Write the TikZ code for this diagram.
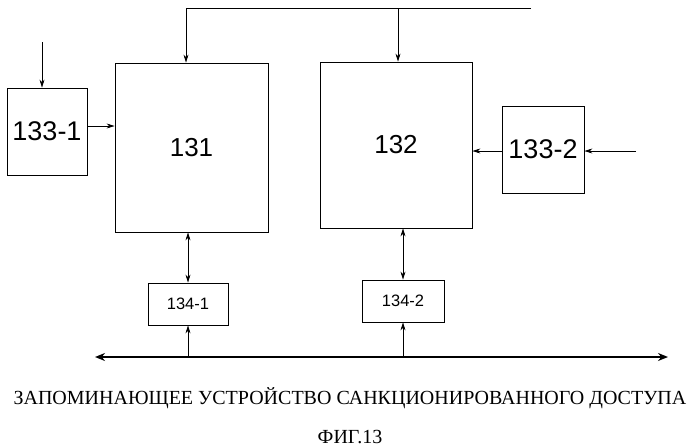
\documentclass[tikz,border=0pt]{standalone}
\usepackage{fontspec}
\setmainfont{Liberation Serif}
\newfontfamily\labfont{Liberation Sans}
\usetikzlibrary{arrows.meta}
\tikzset{
  blk/.style={draw, line width=0.8pt, inner sep=0pt},
  lnk/.style={line width=0.8pt, -{Stealth[length=8pt,width=5pt]}},
  dlnk/.style={line width=0.8pt, {Stealth[length=8pt,width=5pt]}-{Stealth[length=8pt,width=5pt]}},
}
\begin{document}
\begin{tikzpicture}[x=1pt,y=-1pt]
  \useasboundingbox (0,0) rectangle (699,447);
  % blocks
  \node[blk, minimum width=80pt, minimum height=87pt, font=\labfont\fontsize{27}{29}\selectfont] (b1331) at (47,131.5) {133-1};
  \node[blk, minimum width=153pt, minimum height=169pt, font=\labfont\fontsize{26}{28}\selectfont] (b131) at (191.5,147.5) {131};
  \node[blk, minimum width=152pt, minimum height=166pt, font=\labfont\fontsize{26}{28}\selectfont] (b132) at (396,145) {132};
  \node[blk, minimum width=82pt, minimum height=87pt, font=\labfont\fontsize{27}{29}\selectfont] (b1332) at (543,149.5) {133-2};
  \node[blk, minimum width=80pt, minimum height=42pt, font=\labfont\fontsize{16.5}{18}\selectfont] (b1341) at (188,304) {134-1};
  \node[blk, minimum width=82pt, minimum height=42pt, font=\labfont\fontsize{16.5}{18}\selectfont] (b1342) at (403,301) {134-2};
  % bus
  \coordinate (busl) at (95,357);
  \coordinate (busr) at (668,357);
  \draw[line width=2.2pt, {Stealth[length=10pt,width=8pt]}-{Stealth[length=10pt,width=8pt]}] (busl) -- (busr);
  % top line
  \coordinate (topr) at (531,8);
  \coordinate (topl) at (186,8);
  \draw[line width=0.8pt] (topr) -- (topl);
  \draw[lnk] (topl) -- (topl |- b131.north);
  \draw[lnk] (398,8) -- (398,0 |- b132.north);
  % inputs
  \coordinate (in1) at (42,42);
  \draw[lnk] (in1) -- (in1 |- b1331.north);
  \draw[lnk] (b1331.east |- 0,126) -- (b131.west |- 0,126);
  \coordinate (in2) at (636,151);
  \draw[lnk] (in2) -- (in2 -| b1332.east);
  \draw[lnk] (b1332.west |- in2) -- (b132.east |- in2);
  % memory links
  \draw[dlnk] (b131.south -| b1341) -- (b1341.north);
  \draw[dlnk] (b132.south -| b1342) -- (b1342.north);
  \draw[lnk] (b1341 |- busl) -- (b1341.south);
  \draw[lnk] (b1342 |- busl) -- (b1342.south);
  % captions
  \node[font=\fontsize{20}{22}\selectfont] (cap) at (350,398) {ЗАПОМИНАЮЩЕЕ УСТРОЙСТВО САНКЦИОНИРОВАННОГО ДОСТУПА};
  \node[font=\fontsize{20}{22}\selectfont] (fig) at (350,437) {ФИГ.13};
\end{tikzpicture}
\end{document}
